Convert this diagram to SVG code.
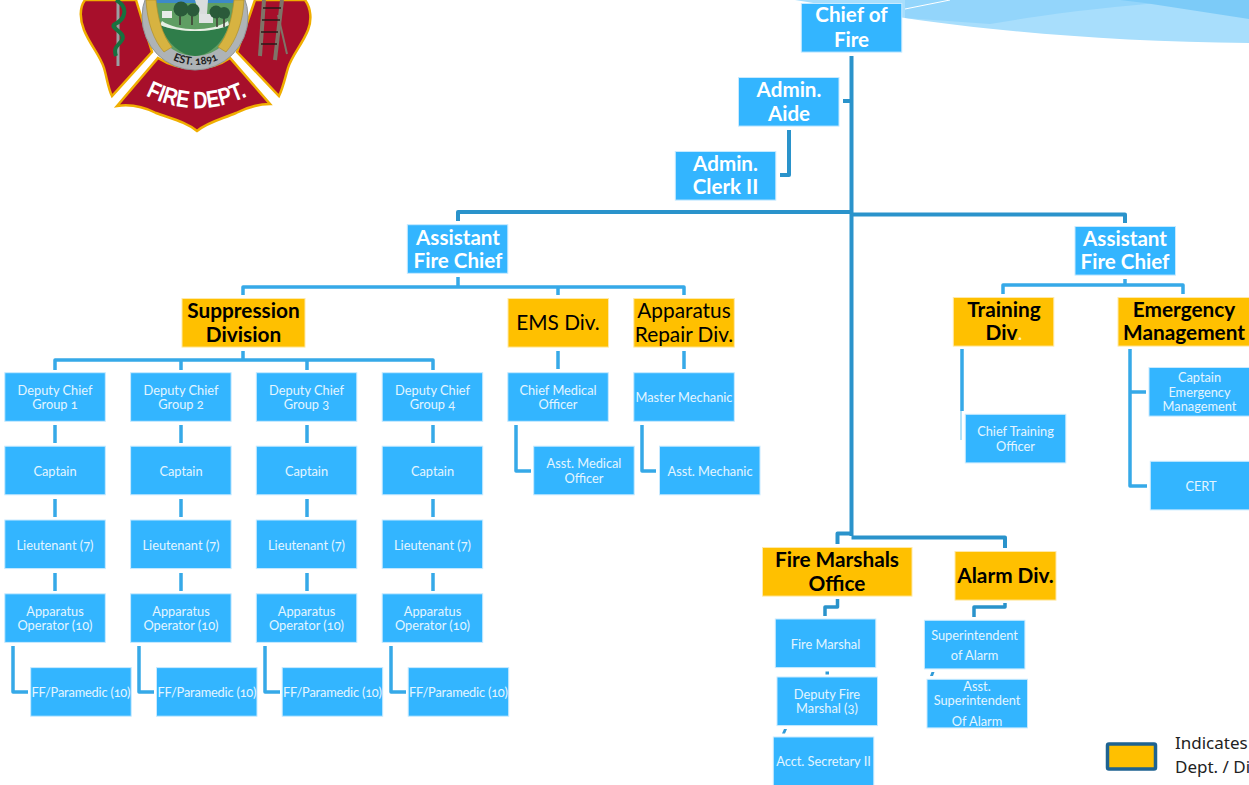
<svg xmlns="http://www.w3.org/2000/svg" width="1249" height="785" viewBox="0 0 1249 785">
<style>
.b{fill:#33b5ff;stroke:#c8eaff;stroke-width:1;width:100.5px;height:48.6px}
.y{fill:#ffc000;stroke:#ffe9a8;stroke-width:1;height:48.6px}
text{font-family:Lato,"Liberation Sans",sans-serif;text-anchor:middle;font-variant-numeric:oldstyle-nums}
.s,.h,.d,.n{transform:translateY(.6px)}
.s{font-size:12.8px;fill:#e4f5ff}
.h{font-size:20.6px;font-weight:700;fill:#fff}
.d{font-size:20.8px;font-weight:700;fill:#000}
.n{font-size:20.8px;fill:#000}
.c{fill:none;stroke:#36a9e8;stroke-width:3.5;stroke-linejoin:round}
.m{fill:none;stroke:#2a93cb;stroke-width:4;stroke-linejoin:round}
</style>
<g id="swoosh">
<path d="M795 0L905 18C1000 32 1120 42 1249 43V0Z" fill="#a8defc"/>
<path d="M905 18L990 24C1060 12 1120 6 1160 3L1249 17V0H905Z" fill="#93d5fb"/>
<path d="M1120 0L1145 3L1249 19V0Z" fill="#7ccbf8"/>
<path d="M905 9L950 0" stroke="#fff" stroke-width="1" fill="none"/>
</g>
<g id="logo">
<path d="M85 0C79 8 80 20 84 30C90 45 100 55 104 68C107 78 108 88 112 96L152 52L136 0Z" fill="#a70f2b" stroke="#f0ae00" stroke-width="2.5"/>
<path d="M305 0C311 8 312 20 308 30C302 45 292 55 288 68C285 78 283 88 279 96L237 52L255 0Z" fill="#a70f2b" stroke="#f0ae00" stroke-width="2.5"/>
<path d="M117 106L158 58C180 72 210 72 230 58L270 104C258 104 248 107 236 113C222 119 208 122 197 131C186 122 172 119 156 113C144 107 130 104 117 106Z" fill="#a70f2b" stroke="#f0ae00" stroke-width="2.5"/>
<circle cx="195" cy="17" r="53" fill="#aeb3b6" stroke="#8d9295" stroke-width="1"/>
<circle cx="195" cy="15" r="41" fill="#5f9e63"/>
<path d="M156 0H234V3H156Z" fill="#3d8ac8"/>
<path d="M160 25C180 33 212 33 229 25C222 44 210 55 195 56C180 55 168 44 160 25Z" fill="#2f7d4a"/>
<path d="M162 21C178 32 212 32 228 21L229 25C212 33 180 33 160 25Z" fill="#e6efe4"/>
<path d="M146 0C147 22 154 41 164 52L172 47C162 35 158 18 156 0Z" fill="#d7b341" stroke="#b08f2a" stroke-width=".7"/>
<path d="M244 0C243 22 236 41 226 52L218 47C228 35 232 18 234 0Z" fill="#d7b341" stroke="#b08f2a" stroke-width=".7"/>
<rect x="162" y="11" width="10" height="7" fill="#e9ece9"/>
<rect x="199" y="14" width="14" height="9" fill="#dfe3e3"/>
<path d="M195 0H208L207 14H199Z" fill="#d9dddd"/>
<path d="M180 12V25M192 12V25M217 15V27M224 15V27" stroke="#3c3a32" stroke-width="1.500" fill="none"/>
<circle cx="181" cy="9" r="7.500" fill="#2a5a3a"/><circle cx="193" cy="10" r="6.500" fill="#2a5a3a"/><circle cx="216" cy="12" r="6.500" fill="#2a5a3a"/><circle cx="224" cy="13" r="6" fill="#2a5a3a"/>
<path d="M118 0V66" stroke="#9aa0a3" stroke-width="3" fill="none"/>
<path d="M116 0C130 8 124 20 115 24C108 28 127 32 122 40C118 46 113 47 116 56" stroke="#17713f" stroke-width="4" fill="none"/>
<g stroke="#7f7468" stroke-width="4" fill="none"><path d="M264 0L260 56"/><path d="M282 0L275 60"/></g>
<path d="M278 15L287 54" stroke="#7f7468" stroke-width="2" fill="none"/>
<g stroke="#2a1a1a" stroke-width="1.5" fill="none"><path d="M263 8H281M262 20H280M261 32H278M261 44H277"/></g>
<defs>
<path id="a1" d="M143 94Q196 122 250 95"/>
<path id="a2" d="M169 58Q195 72 222 58"/>
</defs>
<text font-size="24" font-weight="700" fill="#fff" style="font-family:'Liberation Sans',sans-serif"><textPath href="#a1" startOffset="50%" textLength="106" lengthAdjust="spacingAndGlyphs">FIRE DEPT.</textPath></text>
<text font-size="11" font-weight="700" fill="#222"><textPath href="#a2" startOffset="50%">EST. 1891</textPath></text>
</g>
<g id="connectors">
<path class="m" d="M851.5 56V536M843 101H851.5M789 130V175H780M851.5 212H458V221M851.5 214.500H1125V223M851.500 530V533.500H837.500V544M851.500 537.500H1005V548"/>
<path class="c" d="M458 277V287M243 295V287H684V295M558 287V295M243 351V360M55 370V360H433V370M181 360V370M307 360V370M55 425V443M181 425V443M307 425V443M433 425V443M55 499V517M181 499V517M307 499V517M433 499V517M55 573V591M181 573V591M307 573V591M433 573V591M13 646V692H28M139 646V692H154M265 646V692H280M391 646V692H406M558 351V369M684 351V369M516 425V471H531M642 425V471H656M1125 279V285M1003 294V285H1183V294M962 349V411M1130 349V486H1147M1130 392H1146"/>
<path d="M961 411V440" stroke="#6cc4ef" stroke-width="1" fill="none"/>
<path class="m" style="stroke-width:3.500" d="M837.500 599V607H825V616M1005 603V607H974V617"/>
<path d="M825.500 671.500H829V674.500H825.500ZM782 733.500L784 729H787L785 733.500ZM930 676L931.500 672H934.500L933 676Z" fill="#2f9bd8"/>
</g>
<g id="chief"><rect class="b" x="801.300" y="3.500" width="100" height="49"/><text class="h" x="851.500" y="21">Chief of</text><text class="h" x="851.500" y="46">Fire</text></g>
<g id="aide"><rect class="b" x="738.500" y="77.500" width="101" height="49"/><text class="h" x="789" y="96">Admin.</text><text class="h" x="789" y="120">Aide</text></g>
<g id="clerk"><rect class="b" x="675.300" y="151.500" width="100" height="48"/><text class="h" x="725.500" y="170">Admin.</text><text class="h" x="725.500" y="193">Clerk II</text></g>
<g id="afc1"><rect class="b" x="407.300" y="224.700" width="100" height="49"/><text class="h" x="458" y="244">Assistant</text><text class="h" x="458" y="267">Fire Chief</text></g>
<g id="afc2"><rect class="b" x="1075" y="226.500" width="100" height="49"/><text class="h" x="1125" y="245">Assistant</text><text class="h" x="1125" y="268">Fire Chief</text></g>
<g id="suppression"><rect class="y" x="182" y="298.500" width="123" height="48"/><text class="d" x="243.500" y="317">Suppression</text><text class="d" x="243.500" y="341">Division</text></g>
<g id="ems"><rect class="y" x="508" y="298.500" width="100.500" height="48"/><text class="n" x="558" y="329">EMS Div.</text></g>
<g id="repair"><rect class="y" x="633.800" y="298.500" width="100.500" height="48"/><text class="n" x="684" y="317">Apparatus</text><text class="n" x="684" y="341">Repair Div.</text></g>
<g id="training"><rect class="y" x="953.300" y="297.500" width="100.500" height="48"/><text class="d" x="1004" y="316">Training</text><text class="d" x="1004" y="339">Div<tspan fill="#fff0c0" font-weight="400">.</tspan></text></g>
<g id="emergency"><rect class="y" x="1118" y="297.500" width="132" height="48"/><text class="d" x="1184" y="316">Emergency</text><text class="d" x="1184" y="339">Management</text></g>
<g id="firemarshals"><rect class="y" x="762.500" y="547.500" width="149.500" height="48"/><text class="d" x="837" y="566">Fire Marshals</text><text class="d" x="837" y="590">Office</text></g>
<g id="alarm"><rect class="y" x="955" y="551.500" width="101" height="48"/><text class="d" x="1005.500" y="582">Alarm Div.</text></g>
<g id="dc1"><rect class="b" x="4.800" y="372.700" width="100" height="48"/><text class="s" x="55" y="394">Deputy Chief</text><text class="s" x="55" y="408">Group 1</text></g>
<g id="dc2"><rect class="b" x="130.600" y="372.700" width="100" height="48"/><text class="s" x="181" y="394">Deputy Chief</text><text class="s" x="181" y="408">Group 2</text></g>
<g id="dc3"><rect class="b" x="256.300" y="372.700" width="100" height="48"/><text class="s" x="306.500" y="394">Deputy Chief</text><text class="s" x="306.500" y="408">Group 3</text></g>
<g id="dc4"><rect class="b" x="382.200" y="372.700" width="100" height="48"/><text class="s" x="432.500" y="394">Deputy Chief</text><text class="s" x="432.500" y="408">Group 4</text></g>
<g id="cap1"><rect class="b" x="4.800" y="446.200" width="100" height="48"/><text class="s" x="55" y="475">Captain</text></g>
<g id="cap2"><rect class="b" x="130.600" y="446.200" width="100" height="48"/><text class="s" x="181" y="475">Captain</text></g>
<g id="cap3"><rect class="b" x="256.300" y="446.200" width="100" height="48"/><text class="s" x="306.500" y="475">Captain</text></g>
<g id="cap4"><rect class="b" x="382.200" y="446.200" width="100" height="48"/><text class="s" x="432.500" y="475">Captain</text></g>
<g id="lt1"><rect class="b" x="4.800" y="520" width="100" height="48"/><text class="s" x="55" y="549">Lieutenant (7)</text></g>
<g id="lt2"><rect class="b" x="130.600" y="520" width="100" height="48"/><text class="s" x="181" y="549">Lieutenant (7)</text></g>
<g id="lt3"><rect class="b" x="256.300" y="520" width="100" height="48"/><text class="s" x="306.500" y="549">Lieutenant (7)</text></g>
<g id="lt4"><rect class="b" x="382.200" y="520" width="100" height="48"/><text class="s" x="432.500" y="549">Lieutenant (7)</text></g>
<g id="ao1"><rect class="b" x="4.800" y="593.800" width="100" height="48"/><text class="s" x="55" y="615">Apparatus</text><text class="s" x="55" y="629">Operator (10)</text></g>
<g id="ao2"><rect class="b" x="130.600" y="593.800" width="100" height="48"/><text class="s" x="181" y="615">Apparatus</text><text class="s" x="181" y="629">Operator (10)</text></g>
<g id="ao3"><rect class="b" x="256.300" y="593.800" width="100" height="48"/><text class="s" x="306.500" y="615">Apparatus</text><text class="s" x="306.500" y="629">Operator (10)</text></g>
<g id="ao4"><rect class="b" x="382.200" y="593.800" width="100" height="48"/><text class="s" x="432.500" y="615">Apparatus</text><text class="s" x="432.500" y="629">Operator (10)</text></g>
<g id="ff1"><rect class="b" x="30.700" y="667.600" width="100" height="48"/><text class="s" x="81" y="696" textLength="99">FF/Paramedic (10)</text></g>
<g id="ff2"><rect class="b" x="156.500" y="667.600" width="100" height="48"/><text class="s" x="207" y="696" textLength="99">FF/Paramedic (10)</text></g>
<g id="ff3"><rect class="b" x="282.200" y="667.600" width="100" height="48"/><text class="s" x="332.500" y="696" textLength="99">FF/Paramedic (10)</text></g>
<g id="ff4"><rect class="b" x="408.200" y="667.600" width="100" height="48"/><text class="s" x="458.500" y="696" textLength="99">FF/Paramedic (10)</text></g>
<g id="cmo"><rect class="b" x="507.800" y="372.700" width="100" height="48"/><text class="s" x="558" y="394">Chief Medical</text><text class="s" x="558" y="408">Officer</text></g>
<g id="amo"><rect class="b" x="533.700" y="446.200" width="100" height="48"/><text class="s" x="584" y="467">Asst. Medical</text><text class="s" x="584" y="482">Officer</text></g>
<g id="mm"><rect class="b" x="633.800" y="372.700" width="100" height="48"/><text class="s" x="684" y="401">Master Mechanic</text></g>
<g id="am"><rect class="b" x="659.500" y="446.200" width="100" height="48"/><text class="s" x="710" y="475">Asst. Mechanic</text></g>
<g id="cto"><rect class="b" x="965.300" y="414.300" width="100" height="48"/><text class="s" x="1015.500" y="435">Chief Training</text><text class="s" x="1015.500" y="450">Officer</text></g>
<g id="capem"><rect class="b" x="1149" y="367.500" width="101" height="48"/><text class="s" x="1199.500" y="381">Captain</text><text class="s" x="1199.500" y="396">Emergency</text><text class="s" x="1199.500" y="410">Management</text></g>
<g id="cert"><rect class="b" x="1150.300" y="461.300" width="100" height="48"/><text class="s" x="1201" y="490">CERT</text></g>
<g id="fm"><rect class="b" x="775.300" y="619" width="100" height="48"/><text class="s" x="825.500" y="648">Fire Marshal</text></g>
<g id="dfm"><rect class="b" x="777" y="677" width="100" height="48"/><text class="s" x="827" y="698">Deputy Fire</text><text class="s" x="827" y="712">Marshal (3)</text></g>
<g id="acct"><rect class="b" x="773.300" y="737" width="100" height="48"/><text class="s" x="823.500" y="765">Acct. Secretary II</text></g>
<g id="sup"><rect class="b" x="924.400" y="620.300" width="100" height="48"/><text class="s" x="974.500" y="639">Superintendent</text><text class="s" x="974.500" y="659">of Alarm</text></g>
<g id="asup"><rect class="b" x="927" y="679.300" width="100" height="48"/><text class="s" x="977" y="690">Asst.</text><text class="s" x="977" y="704">Superintendent</text><text class="s" x="977" y="725">Of Alarm</text></g>
<g id="legend"><rect x="1107.500" y="744" width="48" height="25" rx="1.500" fill="#ffc000" stroke="#1f6391" stroke-width="3.500"/>
<text x="1175" y="749" style="text-anchor:start;font-family:'Noto Sans',sans-serif;font-size:17px" fill="#222">Indicates</text>
<text x="1175" y="773" style="text-anchor:start;font-family:'Noto Sans',sans-serif;font-size:17px" fill="#222">Dept. / Di</text></g>
</svg>
